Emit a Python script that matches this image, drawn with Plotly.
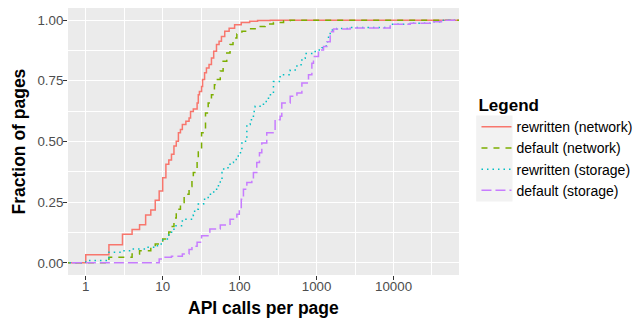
import plotly.graph_objects as go

# ECDF padding (stands in for -Inf / +Inf, clipped by the axis range)
NEG_INF = 0.01
POS_INF = 1e7

# rewritten (network)
rn_x = [1, 2, 3, 4, 5, 6, 7, 8, 9, 10, 11, 12, 13, 14, 15, 16, 17, 18, 20, 22, 23, 25, 28, 29, 30, 32, 33, 35, 37,
        40, 43, 46, 50, 54, 58, 64, 73, 86, 105, 135, 171, 250]
rn_y = [0.033, 0.075, 0.118, 0.137, 0.157, 0.197, 0.218, 0.258, 0.296, 0.351, 0.406, 0.424, 0.447, 0.481, 0.501,
        0.536, 0.549, 0.570, 0.583, 0.597, 0.624, 0.634, 0.659, 0.693, 0.706, 0.727, 0.755, 0.783, 0.803, 0.817,
        0.844, 0.872, 0.900, 0.913, 0.933, 0.954, 0.967, 0.981, 0.990, 0.995, 0.998, 1.0]

# default (network)
dn_x = [2, 4, 5, 7, 8, 10, 12, 13, 14, 15, 17, 19, 22, 24, 25, 28, 29, 32, 36, 39, 43, 47, 50, 56, 61, 68, 75, 82,
        92, 107, 130, 159, 214, 275, 372, 450]
dn_y = [0.023, 0.037, 0.050, 0.064, 0.078, 0.098, 0.127, 0.150, 0.185, 0.221, 0.249, 0.283, 0.315, 0.344, 0.372,
        0.430, 0.465, 0.536, 0.617, 0.659, 0.693, 0.734, 0.755, 0.790, 0.831, 0.865, 0.900, 0.926, 0.943, 0.954,
        0.964, 0.974, 0.984, 0.990, 0.997, 1.0]

# rewritten (storage)
rs_x = [1, 2, 3, 4, 6, 8, 9, 10, 12, 14, 18, 25, 26, 29, 34, 39, 46, 53, 56, 59, 62, 75, 83, 96, 107, 124, 137, 151,
        159, 204, 237, 275, 336, 454, 555, 644, 711, 960, 1172, 1334, 1429, 1503, 1836, 2735, 9060, 16500, 30000,
        42000]
rs_y = [0.010, 0.044, 0.050, 0.057, 0.064, 0.071, 0.078, 0.098, 0.126, 0.153, 0.180, 0.197, 0.221, 0.242, 0.262,
        0.283, 0.303, 0.324, 0.344, 0.372, 0.392, 0.413, 0.426, 0.454, 0.501, 0.570, 0.590, 0.624, 0.645, 0.665,
        0.693, 0.747, 0.775, 0.795, 0.816, 0.843, 0.863, 0.877, 0.886, 0.911, 0.939, 0.959, 0.966, 0.970, 0.983,
        0.987, 0.993, 1.0]

# default (storage)
ds_x = [9, 10, 13, 18, 22, 24, 28, 32, 41, 56, 75, 92, 99, 105, 112, 124, 144, 151, 167, 181, 194, 225, 289, 336,
        353, 454, 555, 644, 785, 868, 911, 1058, 1230, 1360, 1503, 1660, 2735, 9060, 16500, 30000, 42000]
ds_y = [0.016, 0.023, 0.027, 0.037, 0.055, 0.068, 0.085, 0.112, 0.139, 0.156, 0.180, 0.200, 0.221, 0.262, 0.303,
        0.331, 0.335, 0.372, 0.413, 0.454, 0.494, 0.536, 0.590, 0.604, 0.659, 0.686, 0.700, 0.741, 0.775, 0.822,
        0.850, 0.877, 0.891, 0.911, 0.952, 0.963, 0.968, 0.983, 0.987, 0.993, 1.0]

x_tickvals = [1, 10, 100, 1000, 10000]
x_ticktext = ["1", "10", "100", "1000", "10000"]
x_minor = [10 ** 0.5, 10 ** 1.5, 10 ** 2.5, 10 ** 3.5, 10 ** 4.5]
y_tickvals = [0, 0.25, 0.5, 0.75, 1.0]
y_ticktext = ["0.00", "0.25", "0.50", "0.75", "1.00"]
y_minor = [0.125, 0.375, 0.625, 0.875]

x_title = "API calls per page"
y_title = "Fraction of pages"
legend_title = "Legend"

series = [
    ("rewritten (network)", rn_x, rn_y, "#F8766D", "solid"),
    ("default (network)", dn_x, dn_y, "#7CAE00", "6px,6px"),
    ("rewritten (storage)", rs_x, rs_y, "#00BFC4", "1.5px,4px"),
    ("default (storage)", ds_x, ds_y, "#C77CFF", "10px,4px"),
]

FONT = "Liberation Sans, Arial, Helvetica, sans-serif"

fig = go.Figure()
for name, xs, ys, color, dash in series:
    fig.add_trace(go.Scatter(
        x=[NEG_INF] + xs + [POS_INF],
        y=[0.0] + ys + [1.0],
        mode="lines",
        line=dict(shape="hv", color=color, width=1.5, dash=dash),
        name=name,
    ))

fig.update_layout(
    width=637, height=318,
    margin=dict(l=68, r=178, t=8, b=43, autoexpand=False),
    paper_bgcolor="white",
    plot_bgcolor="#EBEBEB",
    font=dict(family=FONT, size=13, color="#4D4D4D"),
    legend=dict(
        title=dict(text="<b>%s</b>" % legend_title, font=dict(size=17, color="black", family=FONT)),
        font=dict(size=14, color="black", family=FONT),
        xref="container", yref="container",
        x=0.748, y=0.72, xanchor="left", yanchor="top",
        bgcolor="rgba(0,0,0,0)",
        tracegroupgap=0,
    ),
    showlegend=True,
    # grey background behind the legend keys (ggplot legend.key)
    shapes=[
        dict(type="rect", xref="paper", yref="paper", x0=1.044, x1=1.137, y0=0.275, y1=0.597,
             fillcolor="#F2F2F2", line=dict(width=0), layer="below"),
    ],
    annotations=[
        dict(text="<b>%s</b>" % x_title, xref="paper", yref="paper", x=0.5, y=0,
             xanchor="center", yanchor="middle", yshift=-33, showarrow=False,
             font=dict(size=17.5, color="black", family=FONT)),
        dict(text="<b>%s</b>" % y_title, xref="paper", yref="paper", x=0, y=0.5,
             xanchor="center", yanchor="middle", xshift=-50, textangle=-90, showarrow=False,
             font=dict(size=17.5, color="black", family=FONT)),
    ],
)

fig.update_xaxes(
    type="log",
    range=[-0.231, 4.851],
    automargin=False,
    tickmode="array", tickvals=x_tickvals, ticktext=x_ticktext,
    ticks="outside", ticklen=4, tickcolor="#333333", tickwidth=1,
    ticklabelstandoff=-5,
    tickfont=dict(size=13.3, color="#4D4D4D"),
    showgrid=True, gridcolor="white", gridwidth=1.1,
    minor=dict(tickvals=x_minor, showgrid=True, gridcolor="white", gridwidth=0.55, ticks=""),
    zeroline=False, showline=False,
)
fig.update_yaxes(
    range=[-0.05, 1.05],
    automargin=False,
    tickmode="array", tickvals=y_tickvals, ticktext=y_ticktext,
    ticks="outside", ticklen=4, tickcolor="#333333", tickwidth=1,
    ticklabelstandoff=-3,
    tickfont=dict(size=13.3, color="#4D4D4D"),
    showgrid=True, gridcolor="white", gridwidth=1.1,
    minor=dict(tickvals=y_minor, showgrid=True, gridcolor="white", gridwidth=0.55, ticks=""),
    zeroline=False, showline=False,
)

# remove the browser's default 8px body margin so the 637x318 figure fills the window
fig.write_html("out.html", config={"displayModeBar": False},
               post_script="document.body.style.margin='0';")
